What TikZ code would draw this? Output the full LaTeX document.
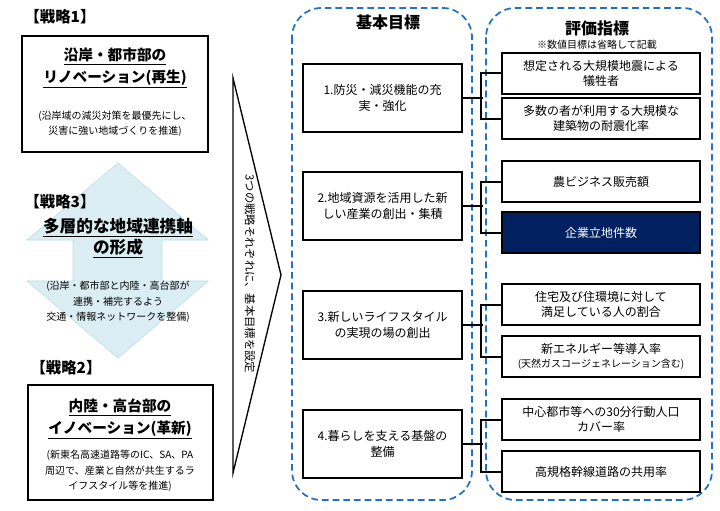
\documentclass[tikz,border=0pt]{standalone}
\usepackage{fontspec}
\setmainfont{Noto Sans CJK JP}
\usetikzlibrary{calc}
\definecolor{dblue}{HTML}{1F73C2}
\definecolor{lblue}{HTML}{DAEEF3}
\definecolor{lbord}{HTML}{B7DDE8}
\definecolor{navy}{HTML}{002060}
\begin{document}
\begin{tikzpicture}[x=0.75pt,y=-0.75pt,
  box/.style={draw=black,line width=0.8pt,align=center,inner sep=1pt},
  gbox/.style={box,minimum width=119.25pt,minimum height=51pt,font=\fontsize{9}{12.5}\selectfont},
  ibox/.style={box,minimum width=148.5pt,minimum height=30.75pt,font=\fontsize{9}{11.5}\selectfont},
  tag/.style={font=\bfseries\fontsize{11.5}{13}\selectfont},
  title/.style={font=\bfseries\fontsize{11}{16}\selectfont,align=center},
  sub/.style={font=\fontsize{7.5}{11.5}\selectfont,align=center},
  dgroup/.style={draw=dblue,line width=1.3pt,dash pattern=on 5pt off 3pt,rounded corners=22pt},
  conn/.style={draw=black,line width=1.5pt}]
\useasboundingbox (0,0) rectangle (720,510);
\fill[white] (0,0) rectangle (720,510);
% left column
\node[tag] (t1) at (60,17) {【戦略1】};
\node[box,minimum width=139.5pt,minimum height=87pt] (s1) at (115,94) {};
\node[title] (s1t) at (115,68) {\underline{沿岸・都市部の}\\\underline{リノベーション(再生)}};
\node[sub] (s1s) at (115,124) {(沿岸域の減災対策を最優先にし、\\災害に強い地域づくりを推進)};
\draw[draw=lbord,fill=lblue] (118,163) -- (208,240) -- (162,240) -- (162,281) -- (208,281) -- (118,358) -- (27,281) -- (73,281) -- (73,240) -- (27,240) -- cycle;
\node[tag] (t3) at (60,202) {【戦略3】};
\node[font=\bfseries\fontsize{12.5}{15.5}\selectfont,align=center] (s3t) at (118,238) {\underline{多層的な地域連携軸}\\\underline{の形成}};
\node[sub] (s3s) at (118,302) {(沿岸・都市部と内陸・高台部が\\連携・補完するよう\\交通・情報ネットワークを整備)};
\node[tag] (t2) at (66,368) {【戦略2】};
\node[box,minimum width=138.75pt,minimum height=86.25pt] (s2) at (120.5,442.5) {};
\node[title] (s2t) at (120,419) {\underline{内陸・高台部の}\\\underline{イノベーション(革新)}};
\node[sub] (s2s) at (120,471) {(新東名高速道路等のIC、SA、PA\\周辺で、産業と自然が共生するラ\\イフスタイル等を推進)};
% chevron
\draw[line width=1pt] (233,78) -- (281,275) -- (233,473) -- cycle;
\node[rotate=-90,font=\fontsize{8.5}{10}\selectfont] (ch) at (250,274) {3つの戦略それぞれに、基本目標を設定};
% dashed groups
\draw[dgroup] (292,8) rectangle (472,500);
\draw[dgroup] (486,8) rectangle (712,500);
\node[font=\bfseries\fontsize{12}{14}\selectfont] (h1) at (388,22) {基本目標};
\node[font=\bfseries\fontsize{12}{14}\selectfont] (h2) at (597,28) {評価指標};
\node[font=\fontsize{7.5}{9}\selectfont] (h2s) at (597,45) {※数値目標は省略して記載};
% goals
\node[gbox] (g1) at (382.5,98) {1.防災・減災機能の充\\実・強化};
\node[gbox] (g2) at (382.5,206) {2.地域資源を活用した新\\しい産業の創出・集積};
\node[gbox] (g3) at (382.5,325) {3.新しいライフスタイル\\の実現の場の創出};
\node[gbox] (g4) at (382.5,444) {4.暮らしを支える基盤の\\整備};
% indicators
\node[ibox] (i1) at (601,73.5) {想定される大規模地震による\\犠牲者};
\node[ibox] (i2) at (601,118.5) {多数の者が利用する大規模な\\建築物の耐震化率};
\node[ibox] (i3) at (601,181.5) {農ビジネス販売額};
\node[ibox,fill=navy,text=white] (i4) at (601,232.5) {企業立地件数};
\node[ibox] (i5) at (601,304.5) {住宅及び住環境に対して\\満足している人の割合};
\node[ibox,font=\fontsize{9}{10.5}\selectfont] (i6) at (601,356.5) {新エネルギー等導入率\\{\fontsize{7.5}{9}\selectfont(天然ガスコージェネレーション含む)}};
\node[ibox] (i7) at (601,419.5) {中心都市等への30分行動人口\\カバー率};
\node[ibox] (i8) at (601,471.5) {高規格幹線道路の共用率};
% connectors
\foreach \g/\a/\b in {g1/i1/i2,g2/i3/i4,g3/i5/i6,g4/i7/i8}{
  \draw[conn] (\g.east) -- ++(20,0);
  \draw[conn] (\a.west) -- ++(-20,0) |- (\b.west);
}
\end{tikzpicture}
\end{document}
